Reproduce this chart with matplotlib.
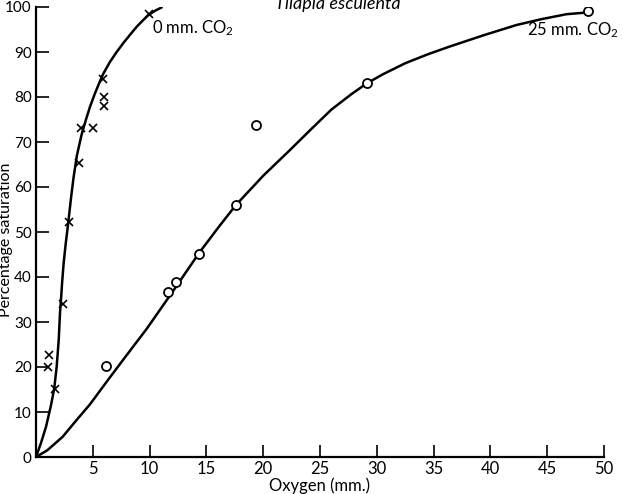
import numpy as np
import matplotlib
matplotlib.use('Agg')
import matplotlib.pyplot as plt

plt.rcParams['font.family'] = ['Lato', 'DejaVu Sans']
plt.rcParams['mathtext.fontset'] = 'custom'
plt.rcParams['mathtext.rm'] = 'Lato'
plt.rcParams['mathtext.it'] = 'Lato:italic'

# 0 mm CO2 observations (crosses)
o2_zero = [9.97, 5.88, 6.0, 6.0, 3.96, 4.99, 3.81, 2.88, 2.35, 1.68, 1.18, 1.09]
sat_zero = [98.4, 84.0, 80.1, 78.0, 73.2, 73.0, 65.3, 52.3, 34.0, 15.1, 22.7, 20.1]

# 25 mm CO2 observations (circles)
o2_25 = [48.6, 29.1, 19.4, 17.6, 14.35, 12.3, 11.6, 6.2]
sat_25 = [99.0, 83.2, 73.7, 56.0, 45.0, 38.8, 36.7, 20.3]

# hand-drawn curves
curve_zero_x = [0, 0.45, 0.88, 1.32, 1.61, 1.82, 2.0, 2.11, 2.2, 2.3, 2.43, 2.62,
                2.85, 3.08, 3.3, 3.6, 4.0, 4.4, 4.75, 5.19, 5.63, 5.93, 6.51,
                7.1, 7.69, 8.3, 8.86, 9.4, 9.89, 10.5, 11.06]
curve_zero_y = [0, 3.2, 6.7, 11.5, 15.3, 20.1, 26.0, 31.9, 35.0, 38.8, 43.0, 47.5,
                52.3, 57.5, 62.0, 67.0, 71.5, 75.0, 77.8, 80.8, 83.5, 85.2, 87.8,
                90.0, 92.0, 93.9, 95.6, 97.0, 98.2, 99.2, 99.9]

curve_25_x = [0, 1.0, 2.35, 3.5, 4.75, 6.3, 8.0, 9.75, 12.1, 14.4, 16.2, 17.6,
              20.0, 22.35, 24.2, 26.0, 27.8, 29.1, 30.5, 32.5, 34.5, 36.4, 39.5,
              42.3, 44.5, 46.7, 48.6]
curve_25_y = [0, 1.5, 4.5, 8.0, 11.7, 17.0, 22.7, 28.5, 37.0, 45.5, 51.5, 56.0,
              62.5, 68.2, 72.8, 77.2, 80.7, 83.0, 85.0, 87.5, 89.5, 91.2, 93.8,
              96.0, 97.3, 98.4, 98.8]

xticks = [5, 10, 15, 20, 25, 30, 35, 40, 45, 50]
yticks = [0, 10, 20, 30, 40, 50, 60, 70, 80, 90, 100]

fig = plt.figure(figsize=(6.23, 4.94), dpi=100)
ax = fig.add_axes([36/623, 37/494, 568/623, 450/494])

ax.plot(curve_zero_x, curve_zero_y, color='black', lw=1.8,
        solid_capstyle='round', solid_joinstyle='round')
ax.plot(curve_25_x, curve_25_y, color='black', lw=1.8,
        solid_capstyle='round', solid_joinstyle='round')
ax.plot(o2_zero, sat_zero, linestyle='none', marker='x', ms=6, mew=1.2, color='black')
ax.plot(o2_25, sat_25, linestyle='none', marker='o', ms=6.5, mew=1.3,
        markerfacecolor='white', markeredgecolor='black', zorder=3)

ax.text(10.2, 95.3, '0 mm. CO$_2$', fontsize=12, ha='left', va='center')
ax.text(43.2, 94.9, '25 mm. CO$_2$', fontsize=12, ha='left', va='center', clip_on=False)

ax.set_xlim(0, 50)
ax.set_ylim(0, 100)
ax.set_xticks(xticks)
ax.set_yticks(yticks)
ax.spines['top'].set_visible(False)
ax.spines['right'].set_visible(False)
ax.spines['left'].set_linewidth(1.6)
ax.spines['bottom'].set_linewidth(1.6)
ax.tick_params(axis='both', direction='in', length=9, width=1.2)
ax.tick_params(axis='x', pad=3, labelsize=12)
ax.tick_params(axis='y', pad=3, labelsize=11)

fig.text(320/623, 1 - 486/494, 'Oxygen (mm.)', fontsize=12, ha='center', va='center')
fig.text(6/623, 1 - 240/494, 'Percentage saturation', fontsize=11.5, rotation=90,
         ha='center', va='center')
fig.text(338/623, 1 - 4/494, 'Tilapia esculenta', fontsize=13, style='italic',
         ha='center', va='center')

fig.savefig('out.png', dpi=100)
